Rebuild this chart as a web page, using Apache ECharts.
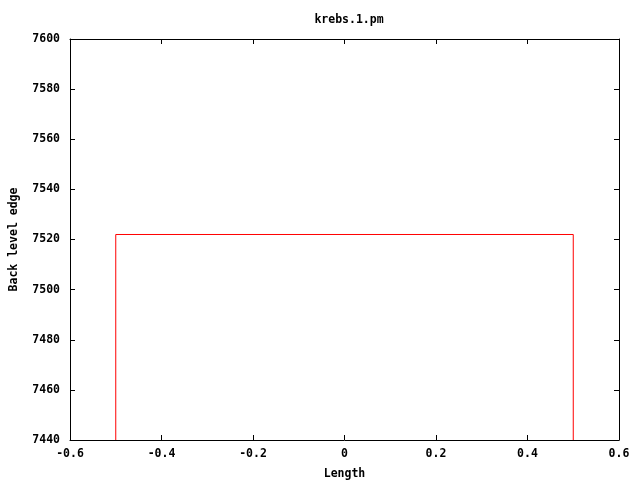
<!DOCTYPE html>
<html><head><meta charset="utf-8">
<script src="https://cdn.jsdelivr.net/npm/echarts@6/dist/echarts.min.js"></script>
<style>html,body{margin:0;padding:0;background:#fff}#c{width:640px;height:480px}</style>
</head><body><div id="c"></div>
<script>
const title = 'krebs.1.pm';
const xName = 'Length';
const yName = 'Back level edge';
const barCenters = [0];
const barWidths = [1];
const barValues = [7522];
const xMin = -0.6, xMax = 0.6, xStep = 0.2;
const yMin = 7440, yMax = 7600, yStep = 20;

const font = {fontFamily: 'DejaVu Sans Mono', fontWeight: 'bold', fontSize: 11.5, color: '#000'};
const chart = echarts.init(document.getElementById('c'), null, {renderer: 'canvas'});
const axisLine = {show: true, onZero: false, lineStyle: {color: '#000', width: 1}};
const axisTick = {show: true, inside: true, length: 5, lineStyle: {color: '#000'}};
chart.setOption({
  animation: false,
  backgroundColor: '#fff',
  title: {text: title, left: 344, top: 9, textAlign: 'center', textStyle: Object.assign({}, font)},
  grid: {left: 70, right: 21, top: 39, bottom: 40, show: false, containLabel: false, outerBoundsMode: 'none'},
  xAxis: [{
    type: 'value', min: xMin, max: xMax, interval: xStep,
    name: xName, nameLocation: 'middle', nameGap: 28, nameTextStyle: Object.assign({}, font),
    axisLine, axisTick, splitLine: {show: false},
    axisLabel: Object.assign({margin: 8, formatter: v => (Math.abs(v) < 1e-9 ? '0' : String(Math.round(v * 10) / 10))}, font)
  }, {
    type: 'value', position: 'top', min: xMin, max: xMax, interval: xStep,
    axisLine, axisTick, splitLine: {show: false}, axisLabel: {show: false}
  }],
  yAxis: [{
    type: 'value', min: yMin, max: yMax, interval: yStep,
    name: yName, nameLocation: 'middle', nameGap: 50, nameRotate: 90, nameTextStyle: Object.assign({}, font),
    axisLine, axisTick, splitLine: {show: false},
    axisLabel: Object.assign({margin: 10, formatter: v => String(v)}, font)
  }, {
    type: 'value', position: 'right', min: yMin, max: yMax, interval: yStep,
    axisLine, axisTick, splitLine: {show: false}, axisLabel: {show: false}
  }],
  series: [{
    type: 'custom',
    clip: true,
    data: barCenters.map((c, i) => [c, barValues[i], barWidths[i]]),
    renderItem: function (params, api) {
      const c = api.value(0), v = api.value(1), w = api.value(2);
      const p1 = api.coord([c - w / 2, yMin]);
      const p2 = api.coord([c - w / 2, v]);
      const p3 = api.coord([c + w / 2, v]);
      const p4 = api.coord([c + w / 2, yMin]);
      return {
        type: 'polyline',
        shape: {points: [p1, p2, p3, p4]},
        style: {stroke: '#ff0000', lineWidth: 1, fill: null}
      };
    }
  }]
});
</script></body></html>
